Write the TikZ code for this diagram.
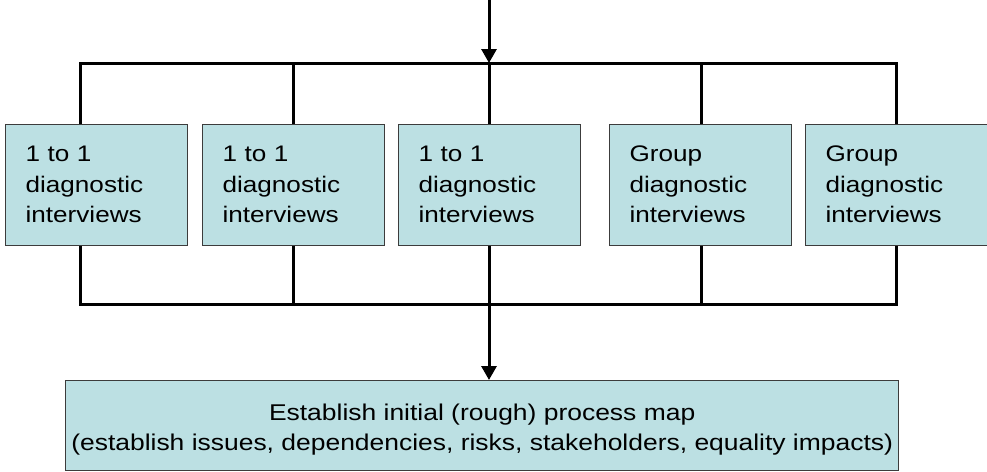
\documentclass[tikz,border=0pt]{standalone}
\usepackage{fontspec}
\setmainfont{Liberation Sans}[FakeStretch=1.16]
\usetikzlibrary{arrows.meta}
\definecolor{boxfill}{RGB}{188,224,227}
\definecolor{boxline}{RGB}{60,60,60}
\begin{document}
\begin{tikzpicture}[x=1pt,y=-1pt,
  box/.style={draw=boxline,line width=1.3pt,fill=boxfill,anchor=north west,
    minimum width=182pt,minimum height=121pt,text width=142pt,inner xsep=20pt,
    align=left,font=\fontsize{22.5}{30.5}\selectfont},
  wide/.style={draw=boxline,line width=1.3pt,fill=boxfill,anchor=north west,
    minimum width=833pt,minimum height=90pt,align=center,
    font=\fontsize{22.8}{30}\selectfont},
  conn/.style={line width=3pt,black},
  arr/.style={conn,-{Triangle[width=15pt,length=14pt]}}]
\useasboundingbox (0,0) rectangle (987,471);
\node[box] (b1) at (5,123.5) {1 to 1\\diagnostic\\interviews};
\node[box] (b2) at (202,123.5) {1 to 1\\diagnostic\\interviews};
\node[box] (b3) at (398,123.5) {1 to 1\\diagnostic\\interviews};
\node[box] (b4) at (609,123.5) {Group\\diagnostic\\interviews};
\node[box] (b5) at (805,123.5) {Group\\diagnostic\\interviews};
\node[wide] (m) at (65,380) {\rule{0pt}{25pt}Establish initial (rough) process map\\(establish issues, dependencies, risks, stakeholders, equality impacts)};
\coordinate (src) at (489,0);
\coordinate (tl) at (80,63);
\coordinate (tr) at (896,63);
\coordinate (tc) at (489,63);
\coordinate (bl) at (80,304);
\coordinate (br) at (896,304);
\coordinate (bc) at (489,304);
\coordinate (x1) at (80,0);
\coordinate (x2) at (293,0);
\coordinate (x3) at (489,0);
\coordinate (x4) at (701,0);
\coordinate (x5) at (896,0);
\draw[conn,line cap=rect] (tl) -- (tr);
\draw[conn,line cap=rect] (bl) -- (br);
\foreach \i in {1,...,5}{
  \draw[conn] (x\i |- tc) -- (x\i |- b\i.north);
  \draw[conn] (x\i |- b\i.south) -- (x\i |- bc);
}
\draw[arr] (src) -- (tc);
\draw[arr] (bc) -- (bc |- m.north);
\end{tikzpicture}
\end{document}
